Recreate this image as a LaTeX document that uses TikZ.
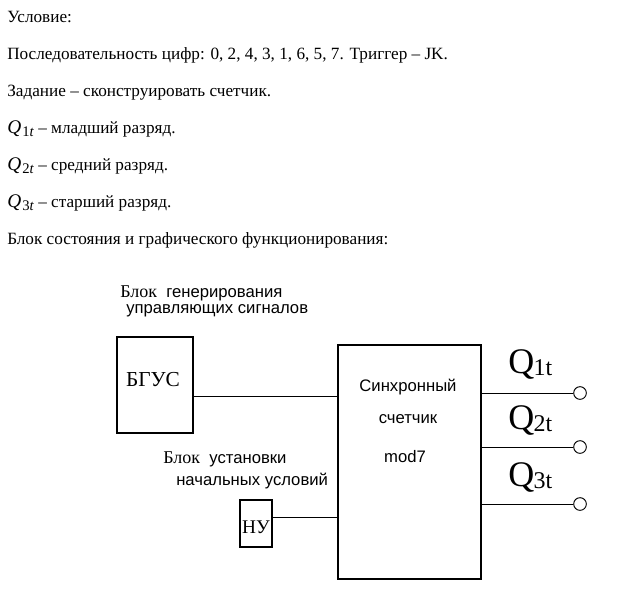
\documentclass[tikz,border=0pt]{standalone}
\usepackage{fontspec}
\setmainfont{Liberation Serif}
\newfontfamily\arialf{Liberation Sans}
\usetikzlibrary{fit}
\newcommand\qsubx[1]{{\fontsize{14.5}{14.5}\selectfont\textit{Q}}\kern0.8pt\raisebox{-0.45ex}{\fontsize{11}{11}\selectfont #1\textit{t}}}
\newcommand\bigq[1]{{\fontsize{27}{27}\selectfont Q}\kern-0.5pt\raisebox{-1.5pt}{\fontsize{18}{18}\selectfont #1t}}
\tikzset{
  txt/.style={anchor=base west, inner sep=0pt, font=\fontsize{12.9}{12.9}\selectfont},
  lbl/.style={anchor=base west, inner sep=0pt, font=\arialf\fontsize{12.5}{12.5}\selectfont},
  ctr/.style={anchor=base, inner sep=0pt, font=\arialf\fontsize{12.5}{12.5}\selectfont},
  blk/.style={draw, line width=0.9pt, inner sep=0pt, fit=#1},
  wire/.style={line width=0.7pt},
  term/.style={circle, draw, line width=0.7pt, minimum size=9.5pt, inner sep=0pt}
}
\begin{document}
\begin{tikzpicture}[x=0.75pt, y=-0.75pt]
\useasboundingbox (0,0) rectangle (631,603);
% top text
\node[txt] (t1) at (7,22) {Условие:};
\node[txt] (t2) at (7,59) {Последовательность цифр: 0, 2, 4, 3, 1, 6, 5, 7. Триггер – JK.};
\node[txt] (t3) at (7,96) {Задание – сконструировать счетчик.};
\node[txt] (t4) at (7,133) {\qsubx{1} – младший разряд.};
\node[txt] (t5) at (7,170) {\qsubx{2} – средний разряд.};
\node[txt] (t6) at (7,207) {\qsubx{3} – старший разряд.};
\node[txt] (t7) at (7,244) {Блок состояния и графического функционирования:};
% labels
\node[lbl] (g1) at (120,297) {{\rmfamily\fontsize{13.5}{13.5}\selectfont Блок}\ \ генерирования};
\node[lbl] (g2) at (126,313) {управляющих сигналов};
\node[lbl] (u1) at (163,463) {{\rmfamily\fontsize{13.5}{13.5}\selectfont Блок}\ \ установки};
\node[lbl] (u2) at (176,485) {начальных условий};
% boxes
\coordinate (b1) at (117,337); \coordinate (b2) at (193,433);
\node[blk={(b1)(b2)}] (bgus) {};
\node[anchor=base, inner sep=0pt, font=\fontsize{16}{16}\selectfont] (bgust) at (153,386) {БГУС};
\coordinate (n1) at (240,500); \coordinate (n2) at (272,547);
\node[blk={(n1)(n2)}] (nu) {};
\node[anchor=base, inner sep=0pt, font=\fontsize{14.5}{14.5}\selectfont] (nut) at (256,533) {НУ};
\coordinate (c1) at (338,345); \coordinate (c2) at (481,579);
\node[blk={(c1)(c2)}] (cnt) {};
\node[ctr] (s1) at (408,391) {Синхронный};
\node[ctr] (s2) at (408,423) {счетчик};
\node[ctr] (s3) at (405,462) {mod7};
% connections
\coordinate (j1) at (193,396);
\draw[wire] (j1) -- (cnt.west |- j1);
\coordinate (j2) at (272,517);
\draw[wire] (j2) -- (cnt.west |- j2);
\node[term] (o1) at (580,393) {};
\node[term] (o2) at (580,447) {};
\node[term] (o3) at (580,504) {};
\draw[wire] (cnt.east |- o1) -- (o1.west);
\draw[wire] (cnt.east |- o2) -- (o2.west);
\draw[wire] (cnt.east |- o3) -- (o3.west);
\node[anchor=base west, inner sep=0pt] (q1) at (508,373) {\bigq{1}};
\node[anchor=base west, inner sep=0pt] (q2) at (508,429) {\bigq{2}};
\node[anchor=base west, inner sep=0pt] (q3) at (508,486) {\bigq{3}};
\end{tikzpicture}
\end{document}
